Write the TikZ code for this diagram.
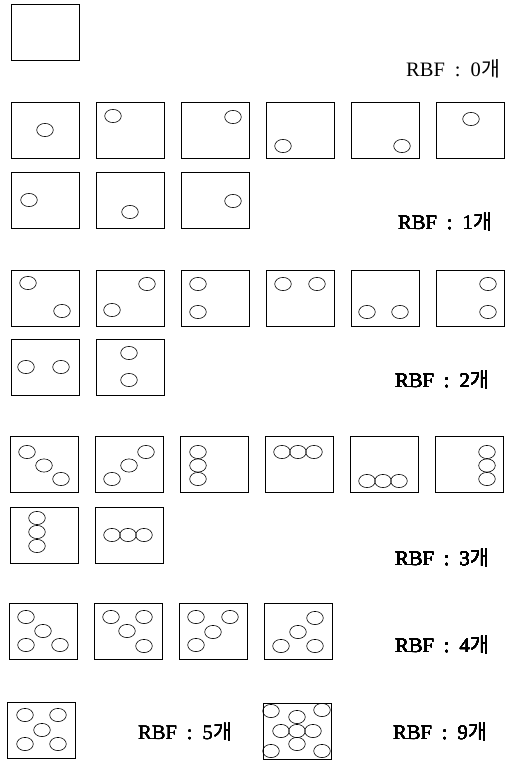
\documentclass[tikz,border=0pt]{standalone}
\usepackage{fontspec}
\setmainfont{Liberation Serif}
\newfontfamily\krfont{Noto Sans CJK KR}
\usetikzlibrary{positioning}
\newcommand{\rbfc}[3]{\draw[ring] ([shift={(#2,#3)}]#1.north west) ellipse [x radius=8.3pt, y radius=6.6pt];}
\newcommand{\rbflabel}[1]{RBF\hspace{10pt}:\hspace{10pt}#1\hspace{1pt}{\krfont 개}}

\begin{document}
\begin{tikzpicture}[
  x=1pt, y=-1pt,
  cell/.style={draw, line width=0.7pt, minimum width=68pt, minimum height=56pt, inner sep=0pt, anchor=north west},
  ring/.style={line width=0.6pt},
  count/.style={anchor=base west, inner sep=0pt, font=\fontsize{20.5}{24}\selectfont}
]
\useasboundingbox (0,0) rectangle (515,760);

\node[cell] (z1) at (11,4) {};
\node[count] (l0) at (406,76) {\rbflabel{0}};

\foreach \k in {1,...,6} \node[cell] (a\k) at ({11+85*(\k-1)},102) {};
\foreach \k in {1,...,3} \node[cell] (b\k) at ({11+85*(\k-1)},172) {};
\foreach \bx/\x/\y in {a1/34/28, a2/17/14, a3/52/15, a4/17/44, a5/51/44, a6/35/17,
                       b1/18/28, b2/34/40, b3/52/29}
  \rbfc{\bx}{\x}{\y}
\node[count] (l1) at (398,229) {\rbflabel{1}};

\foreach \k in {1,...,6} \node[cell] (c\k) at ({11+85*(\k-1)},270) {};
\foreach \k in {1,...,2} \node[cell] (d\k) at ({11+85*(\k-1)},339) {};
\foreach \bx/\x/\y in {c1/17/13, c1/51/41, c2/51/14, c2/16/40, c3/17/14, c3/17/42,
                       c4/17/14, c4/51/14, c5/16/42, c5/49/42, c6/52/14, c6/52/42,
                       d1/15/28, d1/50/28, d2/33/14, d2/33/41}
  \rbfc{\bx}{\x}{\y}
\node[count] (l2) at (395,387) {\rbflabel{2}};

\foreach \k in {1,...,6} \node[cell] (e\k) at ({10+85*(\k-1)},436) {};
\foreach \k in {1,...,2} \node[cell] (f\k) at ({10+85*(\k-1)},507) {};
\foreach \bx/\x/\y in {e1/17/16, e1/34/29.5, e1/51/43, e2/17/43, e2/34/29.5, e2/51/16,
                       e3/18/16, e3/18/29.5, e3/18/43, e4/17/16, e4/33/16, e4/49/16,
                       e5/17/45, e5/33/45, e5/49/45, e6/52/16, e6/52/29.5, e6/52/43,
                       f1/27/11, f1/27/25, f1/27/39, f2/17/28, f2/33/28, f2/49/28}
  \rbfc{\bx}{\x}{\y}
\node[count] (l3) at (395,565) {\rbflabel{3}};

\foreach \k in {1,...,4} \node[cell] (g\k) at ({9+85*(\k-1)},603) {};
\foreach \bx/\x/\y in {g1/17/14, g1/34/28, g1/17/42, g1/51/42,
                       g2/17/14, g2/50/14, g2/33/28, g2/50/43,
                       g3/17/14, g3/51/14, g3/34/29, g3/17/42,
                       g4/51/15, g4/34/29, g4/17/43, g4/51/43}
  \rbfc{\bx}{\x}{\y}
\node[count] (l4) at (395,652) {\rbflabel{4}};

\node[cell] (h1) at (7,702) {};
\foreach \x/\y in {18/13, 51/13, 35/28, 18/42, 51/42} \rbfc{h1}{\x}{\y}
\node[count] (l5) at (138,739) {\rbflabel{5}};

\node[cell] (h2) at (263,703) {};
\foreach \x/\y in {8/8, 34/14, 59/7, 18/28, 34/28, 50/28, 34/41, 8/48, 59/48} \rbfc{h2}{\x}{\y}
\node[count] (l9) at (393,739) {\rbflabel{9}};
\end{tikzpicture}
\end{document}
